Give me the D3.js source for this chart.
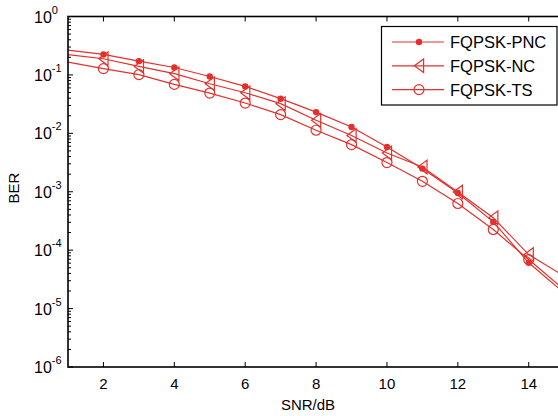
<!DOCTYPE html>
<html>
<head>
<meta charset="utf-8">
<script src="https://cdn.jsdelivr.net/npm/d3@7"></script>
<style>
  body { margin: 0; background: #fff; }
  svg { display: block; font-family: "Liberation Sans", Arial, sans-serif; }
</style>
</head>
<body>
<div id="chartbox"></div>
<script>
// SNR (dB) and BER
var snr = [1, 2, 3, 4, 5, 6, 7, 8, 9, 10, 11, 12, 13, 14, 15];
var berPNC = [0.265, 0.224, 0.172, 0.134, 0.094, 0.0636, 0.0392, 0.0231, 0.0128, 0.00583, 0.00249, 0.00095, 0.000305, 0.0000607, 0.0000185];
var berNC = [0.222, 0.189, 0.14, 0.105, 0.0706, 0.0496, 0.0322, 0.0167, 0.0092, 0.0046, 0.00266, 0.00099, 0.00036, 0.000084, 0.000036];
var berTS = [0.166, 0.128, 0.101, 0.0688, 0.0489, 0.033, 0.0209, 0.0113, 0.0064, 0.00316, 0.00151, 0.000629, 0.000226, 0.000069, 0.000021];
var seriesNames = ["FQPSK-PNC", "FQPSK-NC", "FQPSK-TS"];
var xTicks = [2, 4, 6, 8, 10, 12, 14];
var yExponents = [0, -1, -2, -3, -4, -5, -6];

var red = '#e3302c';
var W = 558, H = 416;
var margin = { top: 16.5, left: 68 };
var plotW = 15 * 35.44, plotH = 350.5;

var svg = d3.select('#chartbox').append('svg')
    .attr('width', W)
    .attr('height', H);
svg.append('rect').attr('width', W).attr('height', H).attr('fill', '#fff');

var x = d3.scaleLinear().domain([1, 16]).range([margin.left, margin.left + plotW]);
var y = d3.scaleLog().domain([1e-6, 1]).range([margin.top + plotH, margin.top]);

svg.append('clipPath').attr('id', 'plotclip')
  .append('rect')
    .attr('x', x(1)).attr('y', y(1))
    .attr('width', plotW).attr('height', plotH);

// ticks (inward, MATLAB style)
var g = svg.append('g').attr('stroke', '#000').attr('stroke-width', 1);
xTicks.forEach(function (t) {
  g.append('line').attr('x1', x(t)).attr('x2', x(t)).attr('y1', y(1e-6)).attr('y2', y(1e-6) - 5);
  g.append('line').attr('x1', x(t)).attr('x2', x(t)).attr('y1', y(1)).attr('y2', y(1) + 5);
});
yExponents.forEach(function (e) {
  var v = Math.pow(10, e);
  g.append('line').attr('x1', x(1)).attr('x2', x(1) + 5).attr('y1', y(v)).attr('y2', y(v));
  if (e < 0) {
    for (var m = 2; m <= 9; m++) {
      var mv = m * v;
      g.append('line').attr('x1', x(1)).attr('x2', x(1) + 3).attr('y1', y(mv)).attr('y2', y(mv));
    }
  }
});

// tick labels
svg.append('g').selectAll('text')
  .data(xTicks)
  .enter().append('text')
    .attr('x', d => x(d))
    .attr('y', y(1e-6) + 22)
    .attr('text-anchor', 'middle')
    .attr('font-size', 15)
    .text(d => d);

var yl = svg.append('g').selectAll('text')
  .data(yExponents)
  .enter().append('text')
    .attr('x', 34)
    .attr('y', d => y(Math.pow(10, d)) + 6)
    .attr('font-size', 16);
yl.append('tspan').text('10');
yl.append('tspan').attr('dy', -9).attr('font-size', 11).text(d => d === 0 ? '0' : '-' + (-d));

// axis labels
svg.append('text')
    .attr('x', 308).attr('y', 410)
    .attr('text-anchor', 'middle')
    .attr('font-size', 15)
    .text('SNR/dB');
svg.append('text')
    .attr('transform', 'translate(19,188) rotate(-90)')
    .attr('text-anchor', 'middle')
    .attr('font-size', 15)
    .text('BER');

// curves
var series = [
  { name: seriesNames[0], values: berPNC, marker: 'dot' },
  { name: seriesNames[1], values: berNC, marker: 'tri' },
  { name: seriesNames[2], values: berTS, marker: 'circle' }
];
var line = d3.line().x(d => x(d.x)).y(d => y(d.y));
var plot = svg.append('g').attr('clip-path', 'url(#plotclip)');

function drawMarker(sel, type, cx, cy) {
  if (type === 'dot') {
    sel.append('circle').attr('cx', cx).attr('cy', cy).attr('r', 3.2).attr('fill', red);
  } else if (type === 'circle') {
    sel.append('circle').attr('cx', cx).attr('cy', cy).attr('r', 5)
      .attr('fill', 'none').attr('stroke', red).attr('stroke-width', 1.2);
  } else {
    sel.append('path')
      .attr('d', 'M' + (cx - 4.6) + ',' + cy + 'L' + (cx + 4.6) + ',' + (cy - 6.8) + 'L' + (cx + 4.6) + ',' + (cy + 6.8) + 'Z')
      .attr('fill', 'none').attr('stroke', red).attr('stroke-width', 1.2);
  }
}

series.forEach(function (s) {
  var pts = snr.map((v, i) => ({ x: v, y: s.values[i] }));
  plot.append('path')
    .datum(pts)
    .attr('d', line)
    .attr('fill', 'none')
    .attr('stroke', red)
    .attr('stroke-width', 1.2);
  var mg = plot.append('g');
  pts.filter(p => p.x > 1).forEach(p => drawMarker(mg, s.marker, x(p.x), y(p.y)));
});

// axes box
svg.append('rect')
    .attr('x', x(1)).attr('y', y(1))
    .attr('width', plotW).attr('height', plotH)
    .attr('fill', 'none').attr('stroke', '#000').attr('stroke-width', 1.6);

// legend
var lg = svg.append('g');
lg.append('rect')
    .attr('x', 381.5).attr('y', 26.5).attr('width', 175.5).attr('height', 78.5)
    .attr('fill', '#fff').attr('stroke', '#000').attr('stroke-width', 1.2);
series.forEach(function (s, i) {
  var ly = 42 + i * 23.8;
  lg.append('line').attr('x1', 392).attr('x2', 444).attr('y1', ly).attr('y2', ly)
    .attr('stroke', red).attr('stroke-width', 1.2);
  drawMarker(lg, s.marker, 419, ly);
  lg.append('text').attr('x', 450).attr('y', ly + 6).attr('font-size', 16.5).text(s.name);
});
</script>
</body>
</html>
